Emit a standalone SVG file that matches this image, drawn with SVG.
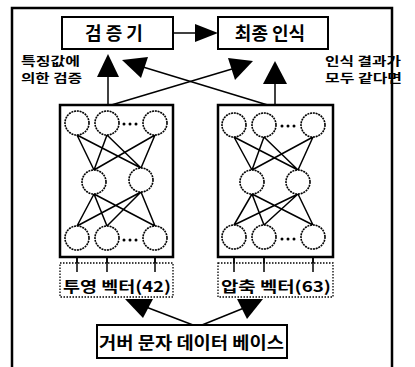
<svg xmlns="http://www.w3.org/2000/svg" width="415" height="367" viewBox="0 0 415 367">
  <style>
    .box { fill: #fff; stroke: #000; stroke-width: 2; }
    .net { fill: #fff; stroke: #000; stroke-width: 2.5; }
    .vec { fill: #fff; stroke: #000; stroke-width: 1.3; stroke-dasharray: 1.5 1.5; }
    .ln { stroke: #000; stroke-width: 1.5; fill: none; }
    .syn { stroke: #000; stroke-width: 1.5; fill: none; }
    .neuron { fill: #fff; stroke: #000; stroke-width: 1.6; stroke-dasharray: 2 0.8; }
    .head { fill: #000; }
    .dot { fill: #000; }
    text { font-family: "Noto Sans CJK KR", "Noto Sans", sans-serif; font-weight: 700; fill: #000; }
    .t18 { font-size: 18px; }
    .t17 { font-size: 17px; }
    .t15 { font-size: 15px; }
    .t12 { font-size: 12px; }
  </style>

  <!-- outer frame, open at the bottom -->
  <path d="M12,367 V8 H392 V367" fill="none" stroke="#000" stroke-width="2.5"/>

  <g id="connectors">
    <!-- verifier -> final recognition -->
    <line class="ln" x1="173" y1="33" x2="196" y2="33"/>
    <polygon class="head" points="195,24 195,42 218,33"/>
    <!-- left network -> verifier -->
    <line class="ln" x1="108" y1="76" x2="108" y2="105"/>
    <polygon class="head" points="108,54 97,77 119,77"/>
    <!-- right network -> final recognition -->
    <line class="ln" x1="275" y1="82" x2="275" y2="105"/>
    <polygon class="head" points="275,61 263,84 287,84"/>
    <!-- crossing links -->
    <line class="ln" x1="108" y1="106" x2="232" y2="69"/>
    <polygon class="head" points="253,61 228,58 235,80"/>
    <line class="ln" x1="271" y1="106" x2="143" y2="67"/>
    <polygon class="head" points="122,60 148,57 141,78"/>
    <!-- database -> vector boxes -->
    <line class="ln" x1="193" y1="325" x2="146" y2="307"/>
    <polygon class="head" points="125,299 153,299 143,318"/>
    <line class="ln" x1="202" y1="325" x2="244" y2="308"/>
    <polygon class="head" points="237,299 263,299 247,319"/>
    <!-- vector inputs into the input layers -->
    <line class="ln" x1="77" y1="250" x2="77" y2="272"/>
    <line class="ln" x1="107" y1="250" x2="107" y2="272"/>
    <line class="ln" x1="155" y1="250" x2="155" y2="272"/>
    <line class="ln" x1="234" y1="249" x2="234" y2="272"/>
    <line class="ln" x1="264" y1="249" x2="264" y2="272"/>
    <line class="ln" x1="313" y1="249" x2="313" y2="272"/>
  </g>

  <g id="verifier">
    <rect class="box" x="62" y="17" width="111" height="32"/>
    <text class="t18" x="114" y="40" text-anchor="middle">검 증 기</text>
  </g>

  <g id="final-recognition">
    <rect class="box" x="218" y="17" width="110" height="32"/>
    <text class="t18" x="270" y="40" text-anchor="middle">최종 인식</text>
  </g>

  <g id="label-left">
    <text class="t12" x="21" y="66" textLength="59" lengthAdjust="spacingAndGlyphs">특징값에</text>
    <text class="t12" x="21" y="83" textLength="61" lengthAdjust="spacingAndGlyphs">의한 검증</text>
  </g>

  <g id="label-right">
    <text class="t12" x="325" y="66" textLength="76" lengthAdjust="spacingAndGlyphs">인식 결과가</text>
    <text class="t12" x="325" y="83" textLength="77" lengthAdjust="spacingAndGlyphs">모두 같다면</text>
  </g>

  <g id="network-left">
    <rect class="net" x="60" y="105" width="113" height="152"/>
    <g class="syn">
      <path d="M77,135 L94,170 M77,135 L141,168 M107,135 L94,170 M107,135 L141,168 M155,135 L94,170 M155,135 L141,168"/>
      <path d="M94,194 L77,226 M94,194 L107,226 M94,194 L155,226 M141,192 L77,226 M141,192 L107,226 M141,192 L155,226"/>
    </g>
    <circle class="neuron" cx="77" cy="123" r="12"/>
    <circle class="neuron" cx="107" cy="123" r="12"/>
    <circle class="neuron" cx="155" cy="123" r="12"/>
    <circle class="neuron" cx="94" cy="182" r="12"/>
    <circle class="neuron" cx="141" cy="180" r="12"/>
    <circle class="neuron" cx="77" cy="238" r="12"/>
    <circle class="neuron" cx="107" cy="238" r="12"/>
    <circle class="neuron" cx="155" cy="238" r="12"/>
    <circle class="dot" cx="124" cy="124" r="1.5"/>
    <circle class="dot" cx="130" cy="124" r="1.5"/>
    <circle class="dot" cx="136" cy="124" r="1.5"/>
    <circle class="dot" cx="124" cy="240" r="1.5"/>
    <circle class="dot" cx="130" cy="240" r="1.5"/>
    <circle class="dot" cx="136" cy="240" r="1.5"/>
  </g>

  <g id="network-right">
    <rect class="net" x="218" y="105" width="115" height="152"/>
    <g class="syn">
      <path d="M234,137 L252,170 M234,137 L298,170 M264,137 L252,170 M264,137 L298,170 M313,137 L252,170 M313,137 L298,170"/>
      <path d="M252,194 L234,225 M252,194 L264,225 M252,194 L313,225 M298,194 L234,225 M298,194 L264,225 M298,194 L313,225"/>
    </g>
    <circle class="neuron" cx="234" cy="125" r="12"/>
    <circle class="neuron" cx="264" cy="125" r="12"/>
    <circle class="neuron" cx="313" cy="125" r="12"/>
    <circle class="neuron" cx="252" cy="182" r="12"/>
    <circle class="neuron" cx="298" cy="182" r="12"/>
    <circle class="neuron" cx="234" cy="237" r="12"/>
    <circle class="neuron" cx="264" cy="237" r="12"/>
    <circle class="neuron" cx="313" cy="237" r="12"/>
    <circle class="dot" cx="282" cy="126" r="1.5"/>
    <circle class="dot" cx="288" cy="126" r="1.5"/>
    <circle class="dot" cx="294" cy="126" r="1.5"/>
    <circle class="dot" cx="282" cy="239" r="1.5"/>
    <circle class="dot" cx="288" cy="239" r="1.5"/>
    <circle class="dot" cx="294" cy="239" r="1.5"/>
  </g>

  <g id="projection-vector">
    <rect class="vec" x="60" y="263" width="113" height="34"/>
    <line class="ln" x1="77" y1="257" x2="77" y2="272"/>
    <line class="ln" x1="107" y1="257" x2="107" y2="272"/>
    <line class="ln" x1="155" y1="257" x2="155" y2="272"/>
    <text class="t15" x="63" y="292" textLength="108" lengthAdjust="spacingAndGlyphs">투영 벡터(42)</text>
  </g>

  <g id="compressed-vector">
    <rect class="vec" x="218" y="263" width="115" height="34"/>
    <line class="ln" x1="234" y1="257" x2="234" y2="272"/>
    <line class="ln" x1="264" y1="257" x2="264" y2="272"/>
    <line class="ln" x1="313" y1="257" x2="313" y2="272"/>
    <text class="t15" x="221" y="292" textLength="110" lengthAdjust="spacingAndGlyphs">압축 벡터(63)</text>
  </g>

  <g id="character-database">
    <rect class="box" x="97" y="325" width="190" height="33"/>
    <text class="t17" x="99" y="349" textLength="185" lengthAdjust="spacingAndGlyphs">거버 문자 데이터 베이스</text>
  </g>
</svg>
